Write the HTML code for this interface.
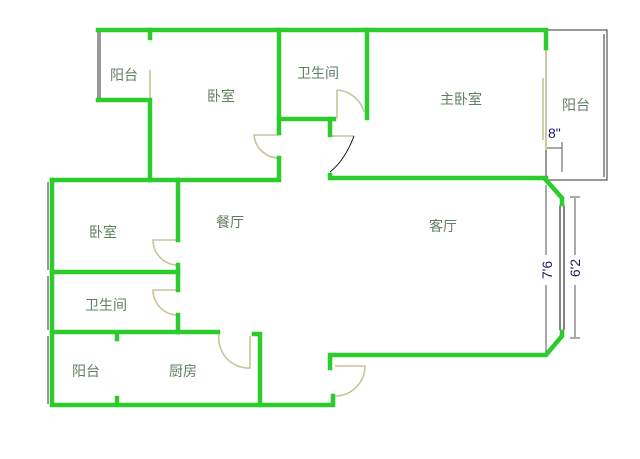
<!DOCTYPE html>
<html><head><meta charset="utf-8"><style>
html,body{margin:0;padding:0;background:#fff;}
svg{display:block}
text{font-family:"Liberation Sans","Noto Sans CJK SC",sans-serif;}
.l{font-size:14px;fill:#5f7f62;}
</style></head><body>
<svg width="640" height="459" viewBox="0 0 640 459" xmlns="http://www.w3.org/2000/svg">
<rect width="640" height="459" fill="#fff"/>
<g stroke="#555" stroke-width="1.2" fill="none">
<polyline points="98,30 98,100"/>
<polyline points="100,32 100,98"/>
<rect x="546" y="30" width="61" height="150"/>
<line x1="604" y1="34" x2="604" y2="177"/>
<line x1="48" y1="182" x2="48" y2="270"/>
<line x1="48" y1="276" x2="48" y2="330"/>
<line x1="48" y1="336" x2="48" y2="404"/>
</g>
<g stroke="#c8c49a" stroke-width="1.6" fill="none">
<line x1="150" y1="70" x2="150" y2="100"/>
<line x1="546" y1="50" x2="546" y2="150"/>
<line x1="543" y1="78" x2="543" y2="140"/>
<path d="M279,135 L254,135 A25,25 0 0 0 279,158"/>
<path d="M330,136 L354,136"/>
<path d="M178,240 L153,240 A25,25 0 0 0 178,265"/>
<path d="M178,290 L153,290 A25,25 0 0 0 178,315"/>
<path d="M219,334 A30,30 0 0 0 250,368 L250,336"/>
<path d="M337,90 A30,30 0 0 1 364,112 M337,90 L337,118"/>
<path d="M335,366 L365,366 A30,30 0 0 1 335,396"/>
</g>
<path d="M354,136 Q345,160 330,172" stroke="#111" stroke-width="1" fill="none"/>
<!-- right window -->
<g stroke="#333" stroke-width="1.2" fill="none">
<line x1="560" y1="205" x2="560" y2="330"/>
<line x1="564" y1="205" x2="564" y2="330"/>
</g>
<g stroke="#2ccc2c" stroke-width="4.5" fill="none" stroke-linecap="square">
<polyline points="98,30 546,30 546,48"/>
<line x1="150" y1="30" x2="150" y2="38"/>
<polyline points="98,100 150,100 150,180"/>
<line x1="279" y1="30" x2="279" y2="133"/>
<polyline points="279,119 334,119"/>
<line x1="330" y1="119" x2="330" y2="135"/>
<line x1="367" y1="30" x2="367" y2="118"/>
<polyline points="52,180 279,180 279,158"/>
<polyline points="330,175 330,178 546,178"/>
<polyline points="546,180 562,198 562,204"/>
<polyline points="562,332 562,336 546,355 330,355 330,368"/>
<polyline points="52,180 52,405 333,405 333,396"/>
<line x1="52" y1="272" x2="178" y2="272"/>
<line x1="178" y1="180" x2="178" y2="240"/>
<line x1="178" y1="265" x2="178" y2="290"/>
<line x1="178" y1="315" x2="178" y2="332"/>
<polyline points="52,332 218,332"/>
<polyline points="254,334 260,334 260,405"/>
<line x1="117" y1="334" x2="117" y2="339"/>
<line x1="117" y1="398" x2="117" y2="403"/>
</g>
<g stroke="#555" stroke-width="1" fill="none">
<line x1="546" y1="185" x2="546" y2="255"/>
<line x1="546" y1="285" x2="546" y2="352"/>
<line x1="575" y1="198" x2="575" y2="255"/>
<line x1="575" y1="285" x2="575" y2="337"/>
<line x1="570" y1="197" x2="580" y2="197"/>
<line x1="570" y1="338" x2="580" y2="338"/>
<line x1="547" y1="148" x2="562" y2="148"/>
<line x1="562" y1="142" x2="562" y2="172"/>
</g>
<text x="548" y="138" font-size="14" fill="#1a1a6a">8"</text>
<text transform="translate(552,270) rotate(-90)" font-size="14" fill="#1a1a6a" text-anchor="middle">7'6</text>
<text transform="translate(580,268) rotate(-90)" font-size="14" fill="#1a1a6a" text-anchor="middle">6'2</text>
<text class="l" x="110" y="80">阳台</text>
<text class="l" x="207" y="101">卧室</text>
<text class="l" x="297" y="78">卫生间</text>
<text class="l" x="440" y="104">主卧室</text>
<text class="l" x="562" y="110">阳台</text>
<text class="l" x="89" y="237">卧室</text>
<text class="l" x="216" y="227">餐厅</text>
<text class="l" x="429" y="231">客厅</text>
<text class="l" x="85" y="310">卫生间</text>
<text class="l" x="72" y="376">阳台</text>
<text class="l" x="169" y="376">厨房</text>
</svg>
</body></html>
